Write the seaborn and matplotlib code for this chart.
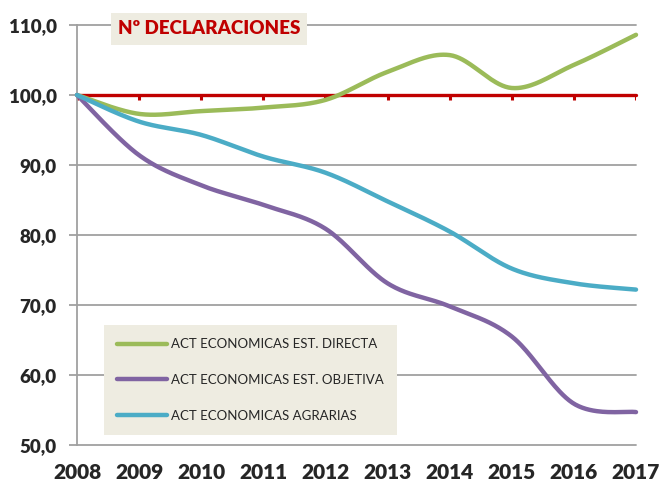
import numpy as np
import pandas as pd
import matplotlib
matplotlib.use('Agg')
import matplotlib.pyplot as plt
import seaborn as sns
from matplotlib.lines import Line2D

years = [2008, 2009, 2010, 2011, 2012, 2013, 2014, 2015, 2016, 2017]
directa = [100.0, 97.3, 97.7, 98.2, 99.3, 103.3, 105.7, 101.0, 104.3, 108.6]
objetiva = [100.0, 91.4, 87.1, 84.3, 80.9, 73.1, 69.8, 65.5, 55.9, 54.7]
agrarias = [100.0, 96.2, 94.3, 91.2, 88.9, 84.8, 80.5, 75.2, 73.1, 72.2]
series_names = ['ACT ECONOMICAS EST. DIRECTA', 'ACT ECONOMICAS EST. OBJETIVA',
                'ACT ECONOMICAS AGRARIAS']
colors = ['#9BBB59', '#8064A2', '#4BACC6']
yticks = [50, 60, 70, 80, 90, 100, 110]
ytick_labels = ['50,0', '60,0', '70,0', '80,0', '90,0', '100,0', '110,0']
title = 'Nº DECLARACIONES'
ref_value = 100


def smooth(x, y, n=40):
    """Excel-style smoothed line (cubic Bezier through the points)."""
    P = np.column_stack([np.asarray(x, float), np.asarray(y, float)])
    out = []
    m = len(P)
    t = np.linspace(0, 1, n)[:, None]
    for i in range(m - 1):
        p_prev = P[i - 1] if i > 0 else P[i]
        p_next = P[i + 2] if i + 2 < m else P[i + 1]
        b0 = P[i]
        b3 = P[i + 1]
        b1 = b0 + (P[i + 1] - p_prev) / 6
        b2 = b3 - (p_next - P[i]) / 6
        seg = ((1 - t) ** 3) * b0 + 3 * ((1 - t) ** 2) * t * b1 + 3 * (1 - t) * t ** 2 * b2 + t ** 3 * b3
        out.append(seg if i == 0 else seg[1:])
    out = np.vstack(out)
    return out[:, 0], out[:, 1]


frames = []
for name, vals in zip(series_names, [directa, objetiva, agrarias]):
    sx, sy = smooth(years, vals)
    frames.append(pd.DataFrame({'x': sx, 'y': sy, 'serie': name}))
df = pd.concat(frames, ignore_index=True)

sns.set_style('white')
plt.rcParams['font.family'] = ['Lato', 'DejaVu Sans']

fig = plt.figure(figsize=(6.61, 4.84), dpi=100)
ax = fig.add_axes([77 / 661, 1 - 445 / 484, 559 / 661, 420 / 484])

grid_c = '#A0A0A0'
for yv in yticks:
    ax.axhline(yv, color=grid_c, lw=1.3, zorder=1)

ax.axhline(ref_value, color='#C00000', lw=2.4, zorder=2)
ax.vlines(years, ref_value - 0.75, ref_value, color='#C00000', lw=2.2, zorder=2)

sns.lineplot(data=df, x='x', y='y', hue='serie', hue_order=series_names,
             palette=colors, lw=3.2, sort=False, estimator=None, ax=ax,
             legend=False, zorder=3)
for line in ax.get_lines():
    line.set_solid_capstyle('round')
    line.set_clip_on(False)

ax.set_xlim(years[0], years[-1])
ax.set_ylim(yticks[0], yticks[-1])
ax.set_yticks(yticks)
ax.set_yticklabels(ytick_labels, fontsize=13.5, fontweight='heavy')
ax.set_xticks(years)
ax.set_xticklabels([str(y) for y in years], fontsize=15, fontweight='heavy')
ax.tick_params(axis='y', length=5.5, width=1.3, color=grid_c, pad=9, left=True)
ax.tick_params(axis='x', length=0, pad=13)
ax.set_xlabel('')
ax.set_ylabel('')
for s in ['top', 'right', 'bottom']:
    ax.spines[s].set_visible(False)
ax.spines['left'].set_color(grid_c)
ax.spines['left'].set_linewidth(1.3)
ax.grid(False)

ax.text(209 / 661, 1 - 29 / 484, title, transform=fig.transFigure,
        ha='center', va='center', fontsize=13.5, fontweight='heavy', color='#C00000',
        bbox=dict(boxstyle='square,pad=0.38', facecolor='#EEECE1', edgecolor='none'),
        zorder=5)

handles = [Line2D([0], [0], color=c, lw=3.2, solid_capstyle='round') for c in colors]
leg = ax.legend(handles, series_names, loc='upper left',
                bbox_to_anchor=((104 - 77) / 559, (445 - 325) / 420),
                frameon=True, facecolor='#EEECE1', edgecolor='none', fancybox=False,
                framealpha=1, fontsize=9.5, handlelength=3.8, handletextpad=0.3,
                labelspacing=1.8, borderpad=1.0, borderaxespad=0)
leg.get_frame().set_linewidth(0)

fig.savefig('out.png', dpi=100)
